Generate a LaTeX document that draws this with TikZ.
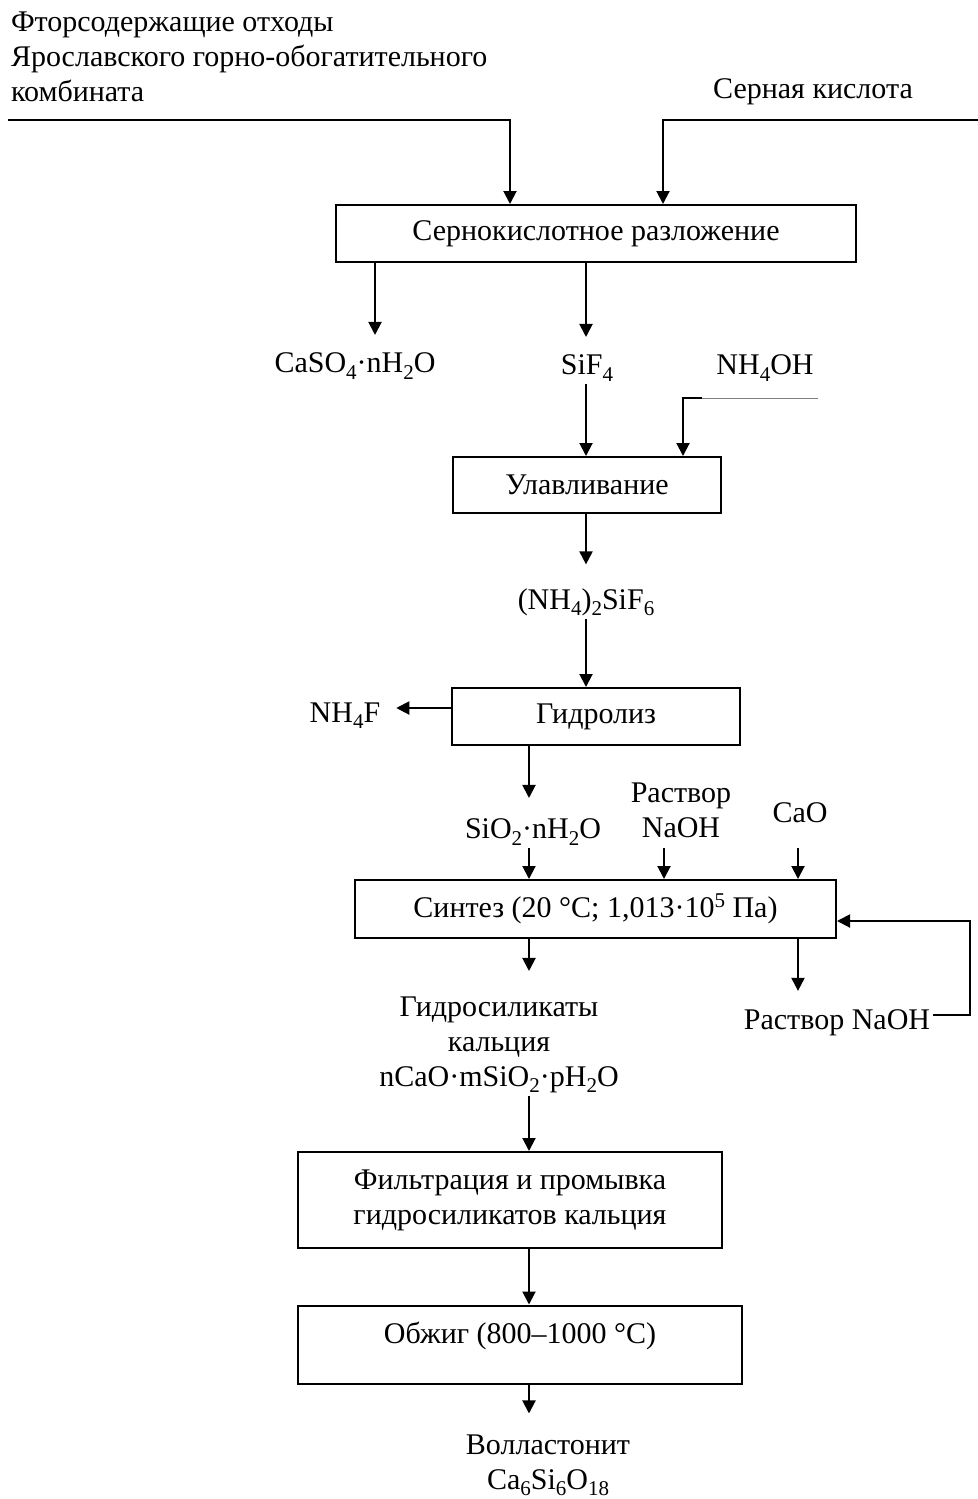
\documentclass[tikz,border=0pt]{standalone}
\usepackage{fontspec}
\setmainfont{Liberation Serif}
\usetikzlibrary{arrows.meta}
\newcommand{\sub}[1]{\raisebox{-0.45ex}{\fontsize{10.5}{10.5}\selectfont#1}}
\newcommand{\supr}[1]{\raisebox{0.75ex}{\fontsize{10.5}{10.5}\selectfont#1}}
\tikzset{
	proc/.style={draw,line width=1pt,inner sep=0pt,align=center},
	lbl/.style={inner sep=1pt,align=center},
	yield/.style={->,shorten >=#1},
	yield/.default=8pt
}
\begin{document}
\begin{tikzpicture}[x=0.5pt,y=-0.5pt,>={Triangle[length=6.5pt,width=6.5pt]},line width=1pt,font=\fontsize{15}{17.5}\selectfont]
			\useasboundingbox (0,0) rectangle (978,1499);
			% columns of the flow lines
			\coordinate (colA) at (529,0);
			\coordinate (colB) at (586,0);
			\coordinate (colC) at (375,0);
			\coordinate (colD) at (664,0);
			\coordinate (colE) at (798,0);
			\coordinate (loopR) at (970,0);
			% raw materials
			\node[lbl,anchor=west,align=left] (waste) at (8,57) {Фторсодержащие отходы\\Ярославского горно-обогатительного\\комбината};
			\node[lbl] (acid) at (813,92) {Серная кислота};
			\coordinate (wasteIn) at (8,120);
			\coordinate (acidIn) at (978,120);
			% process steps
			\node[proc,minimum width=260pt,minimum height=28.5pt] (decomp) at (596,233.5) {Сернокислотное разложение};
			\node[proc,minimum width=134pt,minimum height=28pt] (trap) at (587,485) {Улавливание};
			\node[proc,minimum width=144pt,minimum height=28.5pt] (hydro) at (596,716.5) {Гидролиз};
			\node[proc,minimum width=240.5pt,minimum height=29pt] (synth) at (595.5,909) {Синтез (20 °C; 1,013·10\supr{5} Па)};
			\node[proc,minimum width=212pt,minimum height=48pt] (filt) at (510,1200) {Фильтрация и промывка\\гидросиликатов кальция};
			\node[proc,minimum width=222pt,minimum height=39pt,text depth=12pt] (fire) at (520,1344.5) {Обжиг (800–1000 °C)};
			% substances
			\node[lbl] (gyps) at (355,366) {CaSO\sub4·nH\sub2O};
			\node[lbl] (sif) at (587,368) {SiF\sub4};
			\node[lbl] (ammo) at (765,368) {NH\sub4OH};
			\node[lbl] (afs) at (586,602) {(NH\sub4)\sub2SiF\sub6};
			\node[lbl] (nhf) at (345,716) {NH\sub4F};
			\node[lbl] (silica) at (533,832) {SiO\sub2·nH\sub2O};
			\node[lbl] (lye) at (681,810) {Раствор\\NaOH};
			\node[lbl] (lime) at (800,813) {CaO};
			\node[lbl] (hsc) at (499,1045) {Гидросиликаты\\кальция\\nCaO·mSiO\sub2·pH\sub2O};
			\node[lbl] (lye2) at (837,1023) {Раствор NaOH};
			\node[lbl] (woll) at (548,1465) {Волластонит\\Ca\sub6Si\sub6O\sub{18}};
			\coordinate (ammoIn) at (818,398);
			\coordinate (ammoKnee) at (702,398);
			% flows
			\draw[->] (wasteIn) -| ([xshift=-43pt]decomp.north);
			\draw[->] (acidIn) -| ([xshift=33.5pt]decomp.north);
			\draw[yield=7.5pt] (decomp.south -| colC) -- (gyps.north -| colC);
			\draw[yield=7.5pt] (decomp.south -| colB) -- (sif.north -| colB);
			\draw[->] (sif.south -| colB) -- (trap.north -| colB);
			\draw[line width=0.4pt,gray] (ammoIn) -- (ammoKnee);
			\draw[->] (ammoKnee) -| ([xshift=48pt]trap.north);
			\draw[yield=10.5pt] (trap.south -| colB) -- (afs.north -| colB);
			\draw[->] (afs.south -| colB) -- (hydro.north -| colB);
			\draw[yield=6.5pt] ([yshift=4.25pt]hydro.west) -- ([yshift=4.25pt]hydro.west -| nhf.east);
			\draw[yield=9pt] (hydro.south -| colA) -- (silica.north -| colA);
			\draw[->] (silica.south -| colA) -- (synth.north -| colA);
			\draw[->] (silica.south -| colD) -- (synth.north -| colD);
			\draw[->] (silica.south -| colE) -- (synth.north -| colE);
			\draw[yield=11.5pt] (synth.south -| colA) -- (hsc.north -| colA);
			\draw[yield=8pt] (synth.south -| colE) -- (lye2.north -| colE);
			\draw[->] ([yshift=4pt]lye2.east) -| ([yshift=-6pt]synth.east -| loopR) -- ([yshift=-6pt]synth.east);
			\foreach \a/\b in {hsc/filt,filt/fire}
				\draw[->] (\a.south -| colA) -- (\b.north -| colA);
			\draw[yield=9pt] (fire.south -| colA) -- (woll.north -| colA);
	\end{tikzpicture}
\end{document}
